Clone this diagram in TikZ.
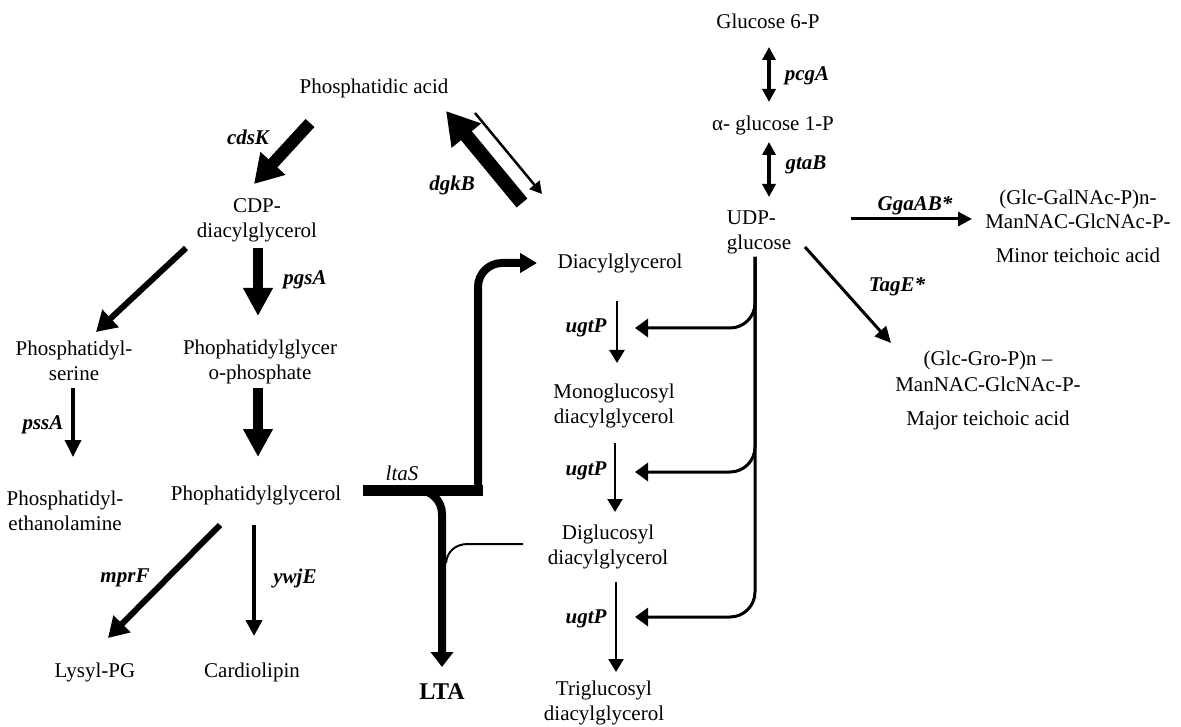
\documentclass[tikz,border=0pt]{standalone}
\usepackage{fontspec}
\setmainfont{Liberation Serif}
\usetikzlibrary{arrows.meta}
\begin{document}
\begin{tikzpicture}[x=1pt,y=-1pt,
  txt/.style={font=\fontsize{21}{25}\selectfont, align=center, inner sep=0pt},
  gene/.style={font=\fontsize{21}{25}\selectfont\bfseries\itshape, inner sep=0pt},
  geneit/.style={font=\fontsize{21}{25}\selectfont\itshape, inner sep=0pt},
  thinarr/.style={line width=2.5pt, -{Triangle[length=12pt,width=13pt]}},
  medarr/.style={line width=3.5pt, -{Triangle[length=16pt,width=16pt]}},
  diagarr/.style={line width=6pt, -{Triangle[length=20pt,width=23pt]}},
  fatarr/.style={line width=10pt, -{Triangle[length=28pt,width=28pt]}},
  dblarr/.style={line width=4pt, {Triangle[length=13pt,width=13pt]}-{Triangle[length=13pt,width=13pt]}},
  branch/.style={line width=3pt, rounded corners=25pt, -{Triangle[length=13pt,width=18pt]}},
  ltapath/.style={line width=8pt, rounded corners=24pt}
]
\useasboundingbox (0,0) rectangle (1181,727);

% ---------- metabolite nodes ----------
\node[txt] (pa)   at (374,88)  {Phosphatidic acid};
\node[txt] (cdp)  at (257,220) {CDP-\\diacylglycerol};
\node[txt] (ps)   at (74,361)  {Phosphatidyl-\\serine};
\node[txt] (pgp)  at (260,362) {Phophatidylglycer\\o-phosphate};
\node[txt] (pe)   at (65,511)  {Phosphatidyl-\\ethanolamine};
\node[txt] (pg)   at (256,495) {Phophatidylglycerol};
\node[txt] (lpg)  at (95,672)  {Lysyl-PG};
\node[txt] (cl)   at (252,672) {Cardiolipin};
\node[font=\fontsize{24}{28}\selectfont\bfseries, inner sep=0pt] (lta) at (442,692) {LTA};
\node[txt] (dag)  at (620,263) {Diacylglycerol};
\node[txt] (mgdg) at (614,406) {Monoglucosyl\\diacylglycerol};
\node[txt] (dgdg) at (608,547) {Diglucosyl\\diacylglycerol};
\node[txt] (tgdg) at (604,703) {Triglucosyl\\diacylglycerol};
\node[txt] (g6p)  at (768,21)  {Glucose 6-P};
\node[txt] (g1p)  at (773,125) {α- glucose 1-P};
\node[txt, align=left] (udp) at (759,232) {UDP-\\glucose};
\node[txt, font=\fontsize{21}{24}\selectfont] (minor) at (1078,226) {(Glc-GalNAc-P)n-\\ManNAC-GlcNAc-P-\\[10pt]Minor teichoic acid};
\node[txt, font=\fontsize{21}{26}\selectfont] (major) at (988,390) {(Glc-Gro-P)n –\\ManNAC-GlcNAc-P-\\[8pt]Major teichoic acid};

% ---------- gene labels ----------
\node[gene] (cdsK) at (248,137) {cdsK};
\node[gene] (dgkB) at (452,185) {dgkB};
\node[gene] (pgsA) at (305,280) {pgsA};
\node[gene] (pssA) at (43,425)  {pssA};
\node[gene] (mprF) at (125,578) {mprF};
\node[gene] (ywjE) at (295,578) {ywjE};
\node[geneit] (ltaS) at (402,473) {ltaS};
\node[gene] (ugtP1) at (586,328) {ugtP};
\node[gene] (ugtP2) at (586,471) {ugtP};
\node[gene] (ugtP3) at (586,619) {ugtP};
\node[gene] (pcgA) at (807,76)  {pcgA};
\node[gene] (gtaB) at (806,165) {gtaB};
\node[gene] (ggaAB) at (915,206) {GgaAB*};
\node[gene] (tagE) at (897,287) {TagE*};

% ---------- connector end points ----------
\coordinate (cdsKs) at (310,123); \coordinate (cdsKe) at (254,184);
\coordinate (dgkBs) at (522,203); \coordinate (dgkBe) at (446,111);
\coordinate (dgkRs) at (475,113); \coordinate (dgkRe) at (542,194);
\coordinate (pgsAs) at (258,248); \coordinate (pgsAe) at (258,316);
\coordinate (pgps)  at (258,388); \coordinate (pgpe)  at (258,457);
\coordinate (pss)   at (186,248); \coordinate (pse)   at (96,332);
\coordinate (pssAs) at (73,388);  \coordinate (pssAe) at (73,457);
\coordinate (mprFs) at (220,525); \coordinate (mprFe) at (108,638);
\coordinate (ywjEs) at (254,525); \coordinate (ywjEe) at (254,636);
\coordinate (pcgAs) at (769,47);  \coordinate (pcgAe) at (769,102);
\coordinate (gtaBs) at (769,142); \coordinate (gtaBe) at (769,197);
\coordinate (ggas)  at (851,219); \coordinate (ggae)  at (972,219);
\coordinate (tags)  at (805,247); \coordinate (tage)  at (891,343);
\coordinate (u1s) at (617,301); \coordinate (u1e) at (617,363);
\coordinate (u2s) at (615,443); \coordinate (u2e) at (615,512);
\coordinate (u3s) at (616,582); \coordinate (u3e) at (616,672);
\coordinate (udps) at (755,257);
\coordinate (b1) at (635,328); \coordinate (b2) at (635,472); \coordinate (b3) at (635,617);
\coordinate (barL) at (363,490); \coordinate (barR) at (483,490);
\coordinate (upS) at (478,486); \coordinate (dagTip) at (537,263);
\coordinate (dnS) at (400,490); \coordinate (ltaTip) at (442,667);
\coordinate (dgS) at (523,544); \coordinate (dgM) at (468,544); \coordinate (dgE) at (446,563);

% ---------- connectors ----------
\draw[fatarr, line width=12pt, -{Triangle[length=28pt,width=32pt]}] (cdsKs) -- (cdsKe);
\draw[fatarr, line width=14pt, -{Triangle[length=32pt,width=36pt]}] (dgkBs) -- (dgkBe);
\draw[thinarr] (dgkRs) -- (dgkRe);
\draw[fatarr] (pgsAs) -- (pgsAe);
\draw[fatarr] (pgps) -- (pgpe);
\draw[diagarr] (pss) -- (pse);
\draw[thinarr, line width=3.5pt, -{Triangle[length=17pt,width=16pt]}] (pssAs) -- (pssAe);
\draw[diagarr] (mprFs) -- (mprFe);
\draw[medarr, line width=4.5pt] (ywjEs) -- (ywjEe);
\draw[dblarr] (pcgAs) -- (pcgAe);
\draw[dblarr] (gtaBs) -- (gtaBe);
\draw[thinarr, line width=3pt, -{Triangle[length=14pt,width=14pt]}] (ggas) -- (ggae);
\draw[thinarr, line width=3pt, -{Triangle[length=16pt,width=15pt]}] (tags) -- (tage);
\draw[thinarr, -{Triangle[length=13pt,width=15pt]}] (u1s) -- (u1e);
\draw[thinarr, -{Triangle[length=13pt,width=15pt]}] (u2s) -- (u2e);
\draw[thinarr, -{Triangle[length=13pt,width=15pt]}] (u3s) -- (u3e);
\draw[branch] (udps) |- (b1);
\draw[branch] (udps) |- (b2);
\draw[branch] (udps) |- (b3);
% ltaS junction
\draw[line width=11pt] (barL) -- (barR);
\draw[ltapath, -{Triangle[length=17pt,width=19pt]}] (upS) |- (dagTip);
\draw[ltapath, -{Triangle[length=15pt,width=22pt]}] (dnS) -| (ltaTip);
\draw[line width=2pt] (dgS) -- (dgM) .. controls (455,544) and (447,552) .. (dgE);
\end{tikzpicture}
\end{document}
